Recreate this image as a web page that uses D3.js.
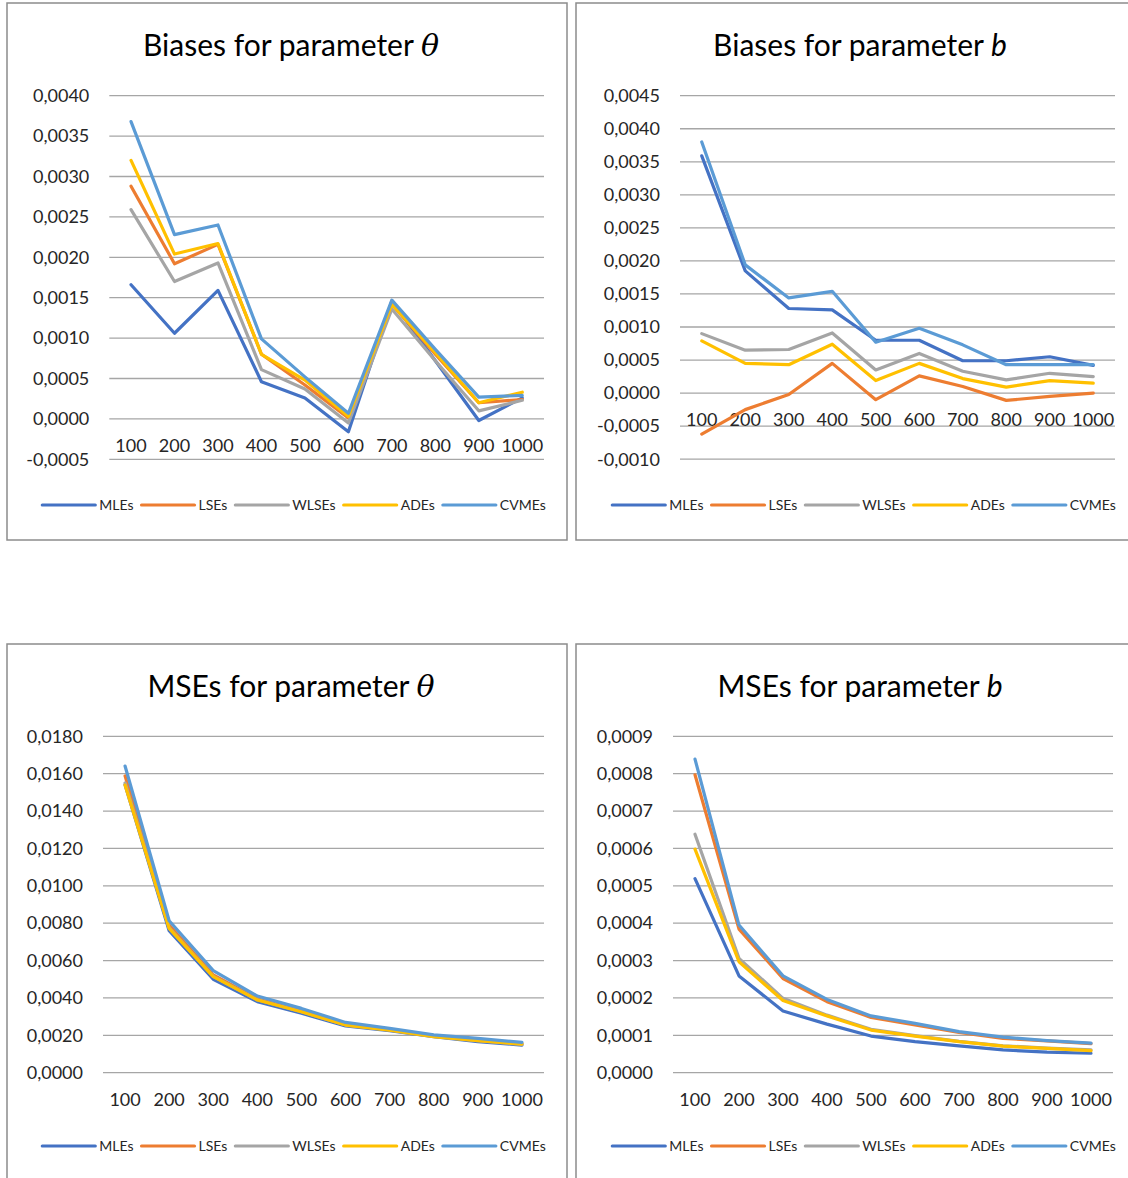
<!DOCTYPE html>
<html>
<head>
<meta charset="utf-8">
<script src="https://cdn.jsdelivr.net/npm/d3@7"></script>
<style>
  html, body { margin: 0; padding: 0; background: #ffffff; }
  svg { display: block; font-family: Lato, "Open Sans", sans-serif; }
</style>
</head>
<body>
<svg id="chart" width="1128" height="1178"></svg>
<script>
// Sample sizes on the x axis and the five estimation methods
const sampleSizes = [100, 200, 300, 400, 500, 600, 700, 800, 900, 1000];
const estimators = ["MLEs", "LSEs", "WLSEs", "ADEs", "CVMEs"];
const seriesColors = ["#4472C4", "#ED7D31", "#A5A5A5", "#FFC000", "#5B9BD5"];

// Biases of theta, one row per estimator (same order as `estimators`)
const biasTheta = [
  [0.00166, 0.00106, 0.00159, 0.00046, 0.00026, -0.00016, 0.00146, 0.00072, -0.00002, 0.00026],
  [0.00288, 0.00192, 0.00216, 0.00080, 0.00042, 0.00001, 0.00142, 0.00080, 0.00020, 0.00024],
  [0.00259, 0.00170, 0.00193, 0.00061, 0.00037, -0.00005, 0.00136, 0.00072, 0.00010, 0.00023],
  [0.00320, 0.00204, 0.00217, 0.00080, 0.00048, 0.00003, 0.00142, 0.00082, 0.00020, 0.00033],
  [0.00368, 0.00228, 0.00240, 0.00099, 0.00052, 0.00007, 0.00147, 0.00086, 0.00027, 0.00029]
];

// Biases of b
const biasB = [
  [0.00359, 0.00185, 0.00128, 0.00126, 0.00080, 0.00080, 0.00049, 0.00049, 0.00055, 0.00042],
  [-0.00062, -0.00025, -0.00002, 0.00045, -0.00010, 0.00026, 0.00010, -0.00011, -0.00005, 0.00000],
  [0.00090, 0.00065, 0.00066, 0.00091, 0.00035, 0.00060, 0.00033, 0.00020, 0.00030, 0.00025],
  [0.00079, 0.00045, 0.00043, 0.00074, 0.00019, 0.00045, 0.00022, 0.00009, 0.00019, 0.00015],
  [0.00380, 0.00194, 0.00144, 0.00154, 0.00077, 0.00098, 0.00073, 0.00043, 0.00043, 0.00043]
];

// MSEs of theta
const mseTheta = [
  [0.01540, 0.00760, 0.00500, 0.00380, 0.00318, 0.00250, 0.00225, 0.00193, 0.00166, 0.00148],
  [0.01588, 0.00790, 0.00523, 0.00395, 0.00330, 0.00260, 0.00232, 0.00197, 0.00175, 0.00156],
  [0.01550, 0.00775, 0.00515, 0.00390, 0.00326, 0.00255, 0.00229, 0.00194, 0.00171, 0.00152],
  [0.01539, 0.00772, 0.00514, 0.00389, 0.00326, 0.00255, 0.00228, 0.00193, 0.00171, 0.00153],
  [0.01641, 0.00813, 0.00546, 0.00410, 0.00344, 0.00269, 0.00237, 0.00202, 0.00184, 0.00162]
];

// MSEs of b
const mseB = [
  [0.000519, 0.000259, 0.000165, 0.000130, 0.000098, 0.000083, 0.000072, 0.000061, 0.000055, 0.000052],
  [0.000797, 0.000384, 0.000252, 0.000190, 0.000148, 0.000128, 0.000108, 0.000092, 0.000085, 0.000078],
  [0.000638, 0.000306, 0.000199, 0.000154, 0.000116, 0.000099, 0.000084, 0.000072, 0.000066, 0.000061],
  [0.000598, 0.000297, 0.000193, 0.000152, 0.000114, 0.000098, 0.000083, 0.000071, 0.000065, 0.000059],
  [0.000839, 0.000395, 0.000259, 0.000196, 0.000152, 0.000132, 0.000110, 0.000095, 0.000086, 0.000079]
];

// Value-axis ticks of each panel
const ticksBiasTheta = [-0.0005, 0, 0.0005, 0.001, 0.0015, 0.002, 0.0025, 0.003, 0.0035, 0.004];
const ticksBiasB = [-0.001, -0.0005, 0, 0.0005, 0.001, 0.0015, 0.002, 0.0025, 0.003, 0.0035, 0.004, 0.0045];
const ticksMseTheta = [0, 0.002, 0.004, 0.006, 0.008, 0.01, 0.012, 0.014, 0.016, 0.018];
const ticksMseB = [0, 0.0001, 0.0002, 0.0003, 0.0004, 0.0005, 0.0006, 0.0007, 0.0008, 0.0009];

// Panel titles: plain prefix + italic parameter symbol
const titles = [
  ["Biases for parameter ", "θ"],
  ["Biases for parameter ", "b"],
  ["MSEs for parameter ", "θ"],
  ["MSEs for parameter ", "b"]
];

// Decimal comma, ASCII hyphen for negatives
const locale = d3.formatLocale({ decimal: ",", thousands: ".", grouping: [3], currency: ["", ""], minus: "-" });
const fmt4 = locale.format(".4f");

const panels = [
  { data: biasTheta, ticks: ticksBiasTheta, title: titles[0],
    box: [7, 3, 560, 537], plotX: [109.3, 544], plotY: [459.3, 95.7], titleX: 291, titleY: 45, legendX: 294, legendY: 505 },
  { data: biasB, ticks: ticksBiasB, title: titles[1],
    box: [576, 3, 570, 537], plotX: [680, 1115], plotY: [459.2, 95.7], titleX: 860, titleY: 45, legendX: 864, legendY: 505 },
  { data: mseTheta, ticks: ticksMseTheta, title: titles[2],
    box: [7, 644, 560, 560], plotX: [103, 544], plotY: [1072.7, 736.3], titleX: 291, titleY: 686, legendX: 294, legendY: 1146 },
  { data: mseB, ticks: ticksMseB, title: titles[3],
    box: [576, 644, 570, 560], plotX: [673, 1113], plotY: [1072.7, 736.3], titleX: 860, titleY: 686, legendX: 864, legendY: 1146 }
];

const svg = d3.select("#chart");

panels.forEach(p => {
  const g = svg.append("g");

  // chart frame
  g.append("rect")
    .attr("x", p.box[0]).attr("y", p.box[1])
    .attr("width", p.box[2]).attr("height", p.box[3])
    .attr("fill", "#ffffff").attr("stroke", "#8c8c8c").attr("stroke-width", 1.5);

  const x = d3.scaleBand().domain(sampleSizes).range(p.plotX);
  const y = d3.scaleLinear().domain(d3.extent(p.ticks)).range(p.plotY);
  const cx = d => x(d) + x.bandwidth() / 2;

  // horizontal gridlines
  g.append("g").selectAll("line").data(p.ticks).join("line")
    .attr("x1", p.plotX[0]).attr("x2", p.plotX[1])
    .attr("y1", d => y(d)).attr("y2", d => y(d))
    .attr("stroke", "#a6a6a6").attr("stroke-width", 1.3);

  // value axis labels
  g.append("g").selectAll("text").data(p.ticks).join("text")
    .attr("x", p.plotX[0] - 20).attr("y", d => y(d))
    .attr("dy", "0.35em").attr("text-anchor", "end")
    .attr("font-size", 18).attr("fill", "#262626")
    .text(d => fmt4(d));

  // category labels, placed just under the zero line
  g.append("g").selectAll("text").data(sampleSizes).join("text")
    .attr("x", d => cx(d)).attr("y", y(0) + 27)
    .attr("dy", "0.35em").attr("text-anchor", "middle")
    .attr("font-size", 18).attr("fill", "#262626")
    .text(d => d);

  // series lines
  const line = d3.line().x((d, i) => cx(sampleSizes[i])).y(d => y(d));
  g.append("g").selectAll("path").data(p.data).join("path")
    .attr("d", d => line(d))
    .attr("fill", "none")
    .attr("stroke", (d, i) => seriesColors[i])
    .attr("stroke-width", 3.2)
    .attr("stroke-linejoin", "round")
    .attr("stroke-linecap", "round");

  // title
  const t = g.append("text")
    .attr("x", p.titleX).attr("y", p.titleY)
    .attr("dy", "0.35em").attr("text-anchor", "middle")
    .attr("font-size", 30).attr("fill", "#000000");
  t.append("tspan").text(p.title[0]);
  t.append("tspan").attr("font-style", "italic")
    .attr("font-family", p.title[1] === "θ" ? "'DejaVu Serif', serif" : null)
    .text(p.title[1]);

  // legend, centred under the plot
  const lg = g.append("g");
  const items = lg.selectAll("g").data(estimators).join("g");
  items.append("line")
    .attr("x1", 0).attr("x2", 53).attr("y1", 0).attr("y2", 0)
    .attr("stroke", (d, i) => seriesColors[i]).attr("stroke-width", 3.2)
    .attr("stroke-linecap", "round");
  items.append("text")
    .attr("x", 57).attr("y", 0).attr("dy", "0.35em")
    .attr("font-size", 14).attr("fill", "#262626")
    .text(d => d);
  let offset = 0;
  items.each(function () {
    const w = 57 + this.querySelector("text").getComputedTextLength();
    d3.select(this).attr("transform", `translate(${offset},0)`);
    offset += w + 8;
  });
  const total = offset - 8;
  lg.attr("transform", `translate(${p.legendX - total / 2},${p.legendY})`);
});
</script>
</body>
</html>
